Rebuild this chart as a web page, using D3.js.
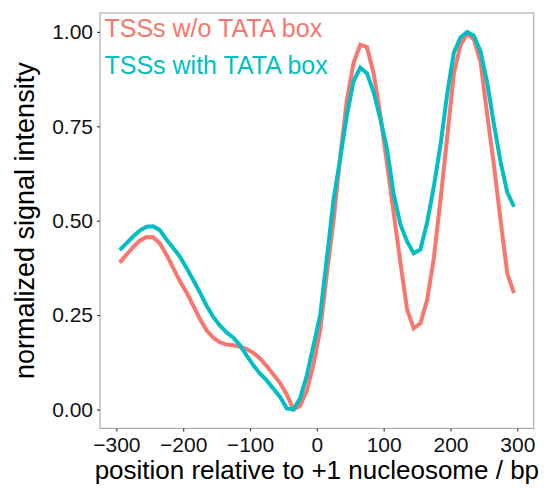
<!DOCTYPE html>
<html>
<head>
<meta charset="utf-8">
<script src="https://cdn.jsdelivr.net/npm/d3@7"></script>
<style>
  html, body { margin: 0; padding: 0; background: #ffffff; }
  svg { display: block; }
  text { font-family: "Liberation Sans", Arial, Helvetica, sans-serif; }
</style>
</head>
<body>
<svg id="chart" width="547" height="488"></svg>
<script>
// ---- data ----
const positions = d3.range(-295, 296, 10);
const seriesNames = ["TSSs w/o TATA box", "TSSs with TATA box"];
const seriesColors = ["#F8766D", "#00BFC4"];
const withoutTATA = [
  0.389, 0.41, 0.43, 0.447, 0.457, 0.456, 0.44, 0.41, 0.375, 0.34,
  0.31, 0.275, 0.24, 0.21, 0.19, 0.178, 0.172, 0.17, 0.166, 0.16,
  0.15, 0.135, 0.115, 0.093, 0.07, 0.04, 0.0, 0.01, 0.05, 0.12,
  0.21, 0.36, 0.50, 0.67, 0.82, 0.918, 0.966, 0.96, 0.89, 0.78,
  0.65, 0.52, 0.39, 0.265, 0.215, 0.228, 0.29, 0.40, 0.555, 0.72,
  0.89, 0.965, 0.995, 0.98, 0.92, 0.78, 0.647, 0.50, 0.36, 0.308
];
const withTATA = [
  0.4225, 0.44, 0.458, 0.474, 0.484, 0.485, 0.475, 0.45, 0.428, 0.405,
  0.375, 0.343, 0.31, 0.275, 0.245, 0.222, 0.204, 0.19, 0.17, 0.143,
  0.117, 0.095, 0.077, 0.055, 0.033, 0.003, 0.0, 0.03, 0.09, 0.17,
  0.25, 0.40, 0.556, 0.665, 0.78, 0.87, 0.905, 0.89, 0.84, 0.77,
  0.69, 0.57, 0.49, 0.445, 0.414, 0.424, 0.495, 0.59, 0.70, 0.835,
  0.945, 0.985, 1.0, 0.99, 0.948, 0.865, 0.755, 0.655, 0.575, 0.537
];
const xTicks = [-300, -200, -100, 0, 100, 200, 300];
const yTicks = [0, 0.25, 0.5, 0.75, 1.0];
const xTitle = "position relative to +1 nucleosome / bp";
const yTitle = "normalized signal intensity";

// ---- layout ----
const panel = { left: 100, top: 13, right: 533.7, bottom: 428.4 };
const svg = d3.select("#chart");

function expand(ext, f) {
  const d = ext[1] - ext[0];
  return [ext[0] - d * f, ext[1] + d * f];
}
const xExt = d3.extent(positions);
const yExt = d3.extent(withoutTATA.concat(withTATA));
const x = d3.scaleLinear().domain(expand(xExt, 0.05)).range([panel.left, panel.right]);
const y = d3.scaleLinear().domain(expand(yExt, 0.05)).range([panel.bottom, panel.top]);

svg.append("rect").attr("width", 547).attr("height", 488).attr("fill", "#ffffff");

svg.append("rect")
  .attr("x", panel.left).attr("y", panel.top)
  .attr("width", panel.right - panel.left).attr("height", panel.bottom - panel.top)
  .attr("fill", "#ffffff").attr("stroke", "#a6a6a6").attr("stroke-width", 1.1);

// axes
const xAxis = svg.append("g")
  .attr("transform", `translate(0,${panel.bottom})`)
  .call(d3.axisBottom(x).tickValues(xTicks).tickSize(3).tickPadding(6).tickFormat(d3.format("d")));
const yAxis = svg.append("g")
  .attr("transform", `translate(${panel.left},0)`)
  .call(d3.axisLeft(y).tickValues(yTicks).tickSize(3).tickPadding(4).tickFormat(d3.format(".2f")));
[xAxis, yAxis].forEach(g => {
  g.select(".domain").remove();
  g.selectAll(".tick line").attr("stroke", "#333333").attr("stroke-width", 1.1);
  g.selectAll(".tick text").attr("fill", "#111111").style("font-size", "21px")
    .style("font-family", '"Liberation Sans", Arial, Helvetica, sans-serif');
});

// lines
const series = [withoutTATA, withTATA];
const line = d3.line().x((d, i) => x(positions[i])).y(d => y(d)).curve(d3.curveLinear);
const clipId = "panelclip";
svg.append("clipPath").attr("id", clipId).append("rect")
  .attr("x", panel.left).attr("y", panel.top)
  .attr("width", panel.right - panel.left).attr("height", panel.bottom - panel.top);
series.forEach((vals, k) => {
  svg.append("path")
    .datum(vals)
    .attr("clip-path", `url(#${clipId})`)
    .attr("fill", "none")
    .attr("stroke", seriesColors[k])
    .attr("stroke-width", 4)
    .attr("stroke-linejoin", "miter")
    .attr("stroke-linecap", "butt")
    .attr("d", line);
});

// legend labels
seriesNames.forEach((name, k) => {
  svg.append("text")
    .attr("x", 104.5)
    .attr("y", 37 + k * 37.3)
    .attr("fill", seriesColors[k])
    .style("font-size", "25px")
    .text(name);
});

// axis titles
svg.append("text")
  .attr("x", (panel.left + panel.right) / 2)
  .attr("y", 479)
  .attr("text-anchor", "middle")
  .attr("fill", "#000")
  .style("font-size", "26px")
  .text(xTitle);
svg.append("text")
  .attr("transform", `translate(33.5,${(panel.top + panel.bottom) / 2}) rotate(-90)`)
  .attr("text-anchor", "middle")
  .attr("fill", "#000")
  .style("font-size", "27px")
  .text(yTitle);
</script>
</body>
</html>
